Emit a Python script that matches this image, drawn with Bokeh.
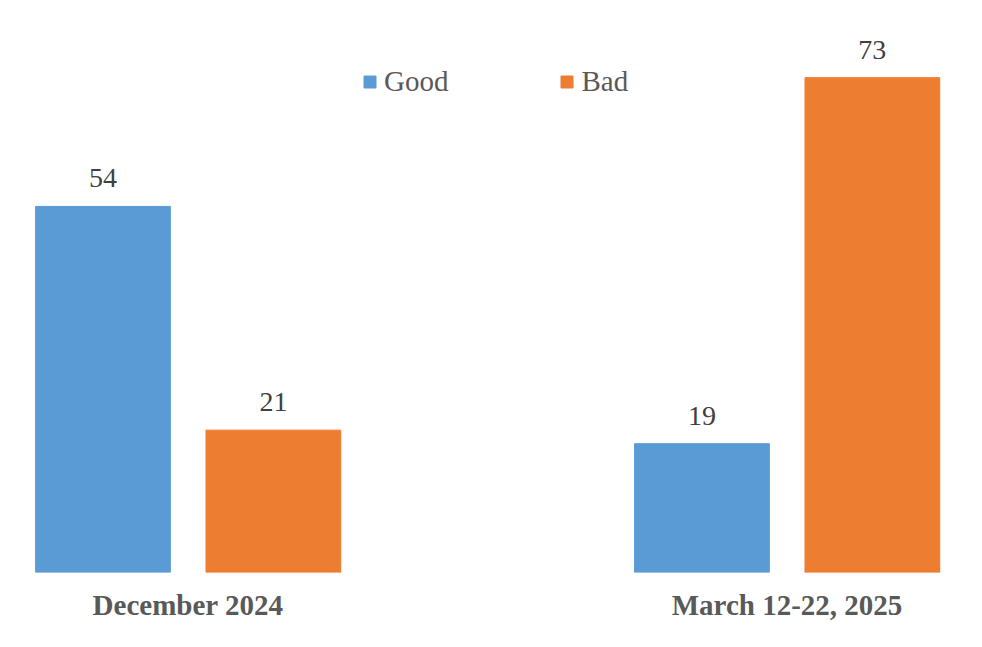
from bokeh.plotting import figure
from bokeh.models import ColumnDataSource, Range1d, LabelSet, Legend, LegendItem, FixedTicker
from bokeh.transform import dodge
from bokeh.embed import file_html
from bokeh.resources import INLINE

periods = ["December 2024", "March 12-22, 2025"]
series = ["Good", "Bad"]
good = [54, 19]
bad = [21, 73]
colors = ["#5B9BD5", "#ED7D31"]

xs = list(range(len(periods)))
src = ColumnDataSource(dict(
    x=xs, good=good, bad=bad,
    good_lbl=[str(v) for v in good], bad_lbl=[str(v) for v in bad],
))

FONT = "Liberation Serif"
p = figure(width=974, height=639, output_backend="svg", toolbar_location=None,
           x_range=Range1d(-0.2997, 1.313), y_range=Range1d(0, 83.2),
           y_axis_location=None, min_border_left=8, min_border_right=0,
           min_border_top=8, min_border_bottom=67)
p.outline_line_color = None
p.grid.visible = False

r_good = p.vbar(x=dodge("x", -0.142, range=p.x_range), top="good", width=0.225,
                source=src, color=colors[0])
r_bad = p.vbar(x=dodge("x", 0.1425, range=p.x_range), top="bad", width=0.225,
               source=src, color=colors[1])

for col, off in (("good", -0.142), ("bad", 0.1425)):
    lbl = LabelSet(x=dodge("x", off, range=p.x_range), y=col, text=col + "_lbl",
                   source=src, text_align="center", text_baseline="bottom",
                   y_offset=19, text_font=FONT, text_font_size="28px",
                   text_color="#404040")
    p.add_layout(lbl)

ax = p.xaxis[0]
ax.ticker = FixedTicker(ticks=xs)
ax.major_label_overrides = {i: s for i, s in enumerate(periods)}
ax.axis_line_color = None
ax.major_tick_line_color = None
ax.minor_tick_line_color = None
ax.major_label_text_font = FONT
ax.major_label_text_font_size = "29px"
ax.major_label_text_font_style = "bold"
ax.major_label_text_color = "#595959"
ax.major_label_standoff = 10

legend = Legend(items=[LegendItem(label=series[0], renderers=[r_good]),
                       LegendItem(label=series[1], renderers=[r_bad])],
                orientation="horizontal", location=(354, 474),
                glyph_width=15, glyph_height=15, label_standoff=7, spacing=111,
                padding=0, margin=0, border_line_color=None,
                background_fill_alpha=0,
                label_text_font=FONT, label_text_font_size="29px",
                label_text_color="#595959")
p.add_layout(legend)

open("out.html", "w").write(file_html(p, INLINE))
